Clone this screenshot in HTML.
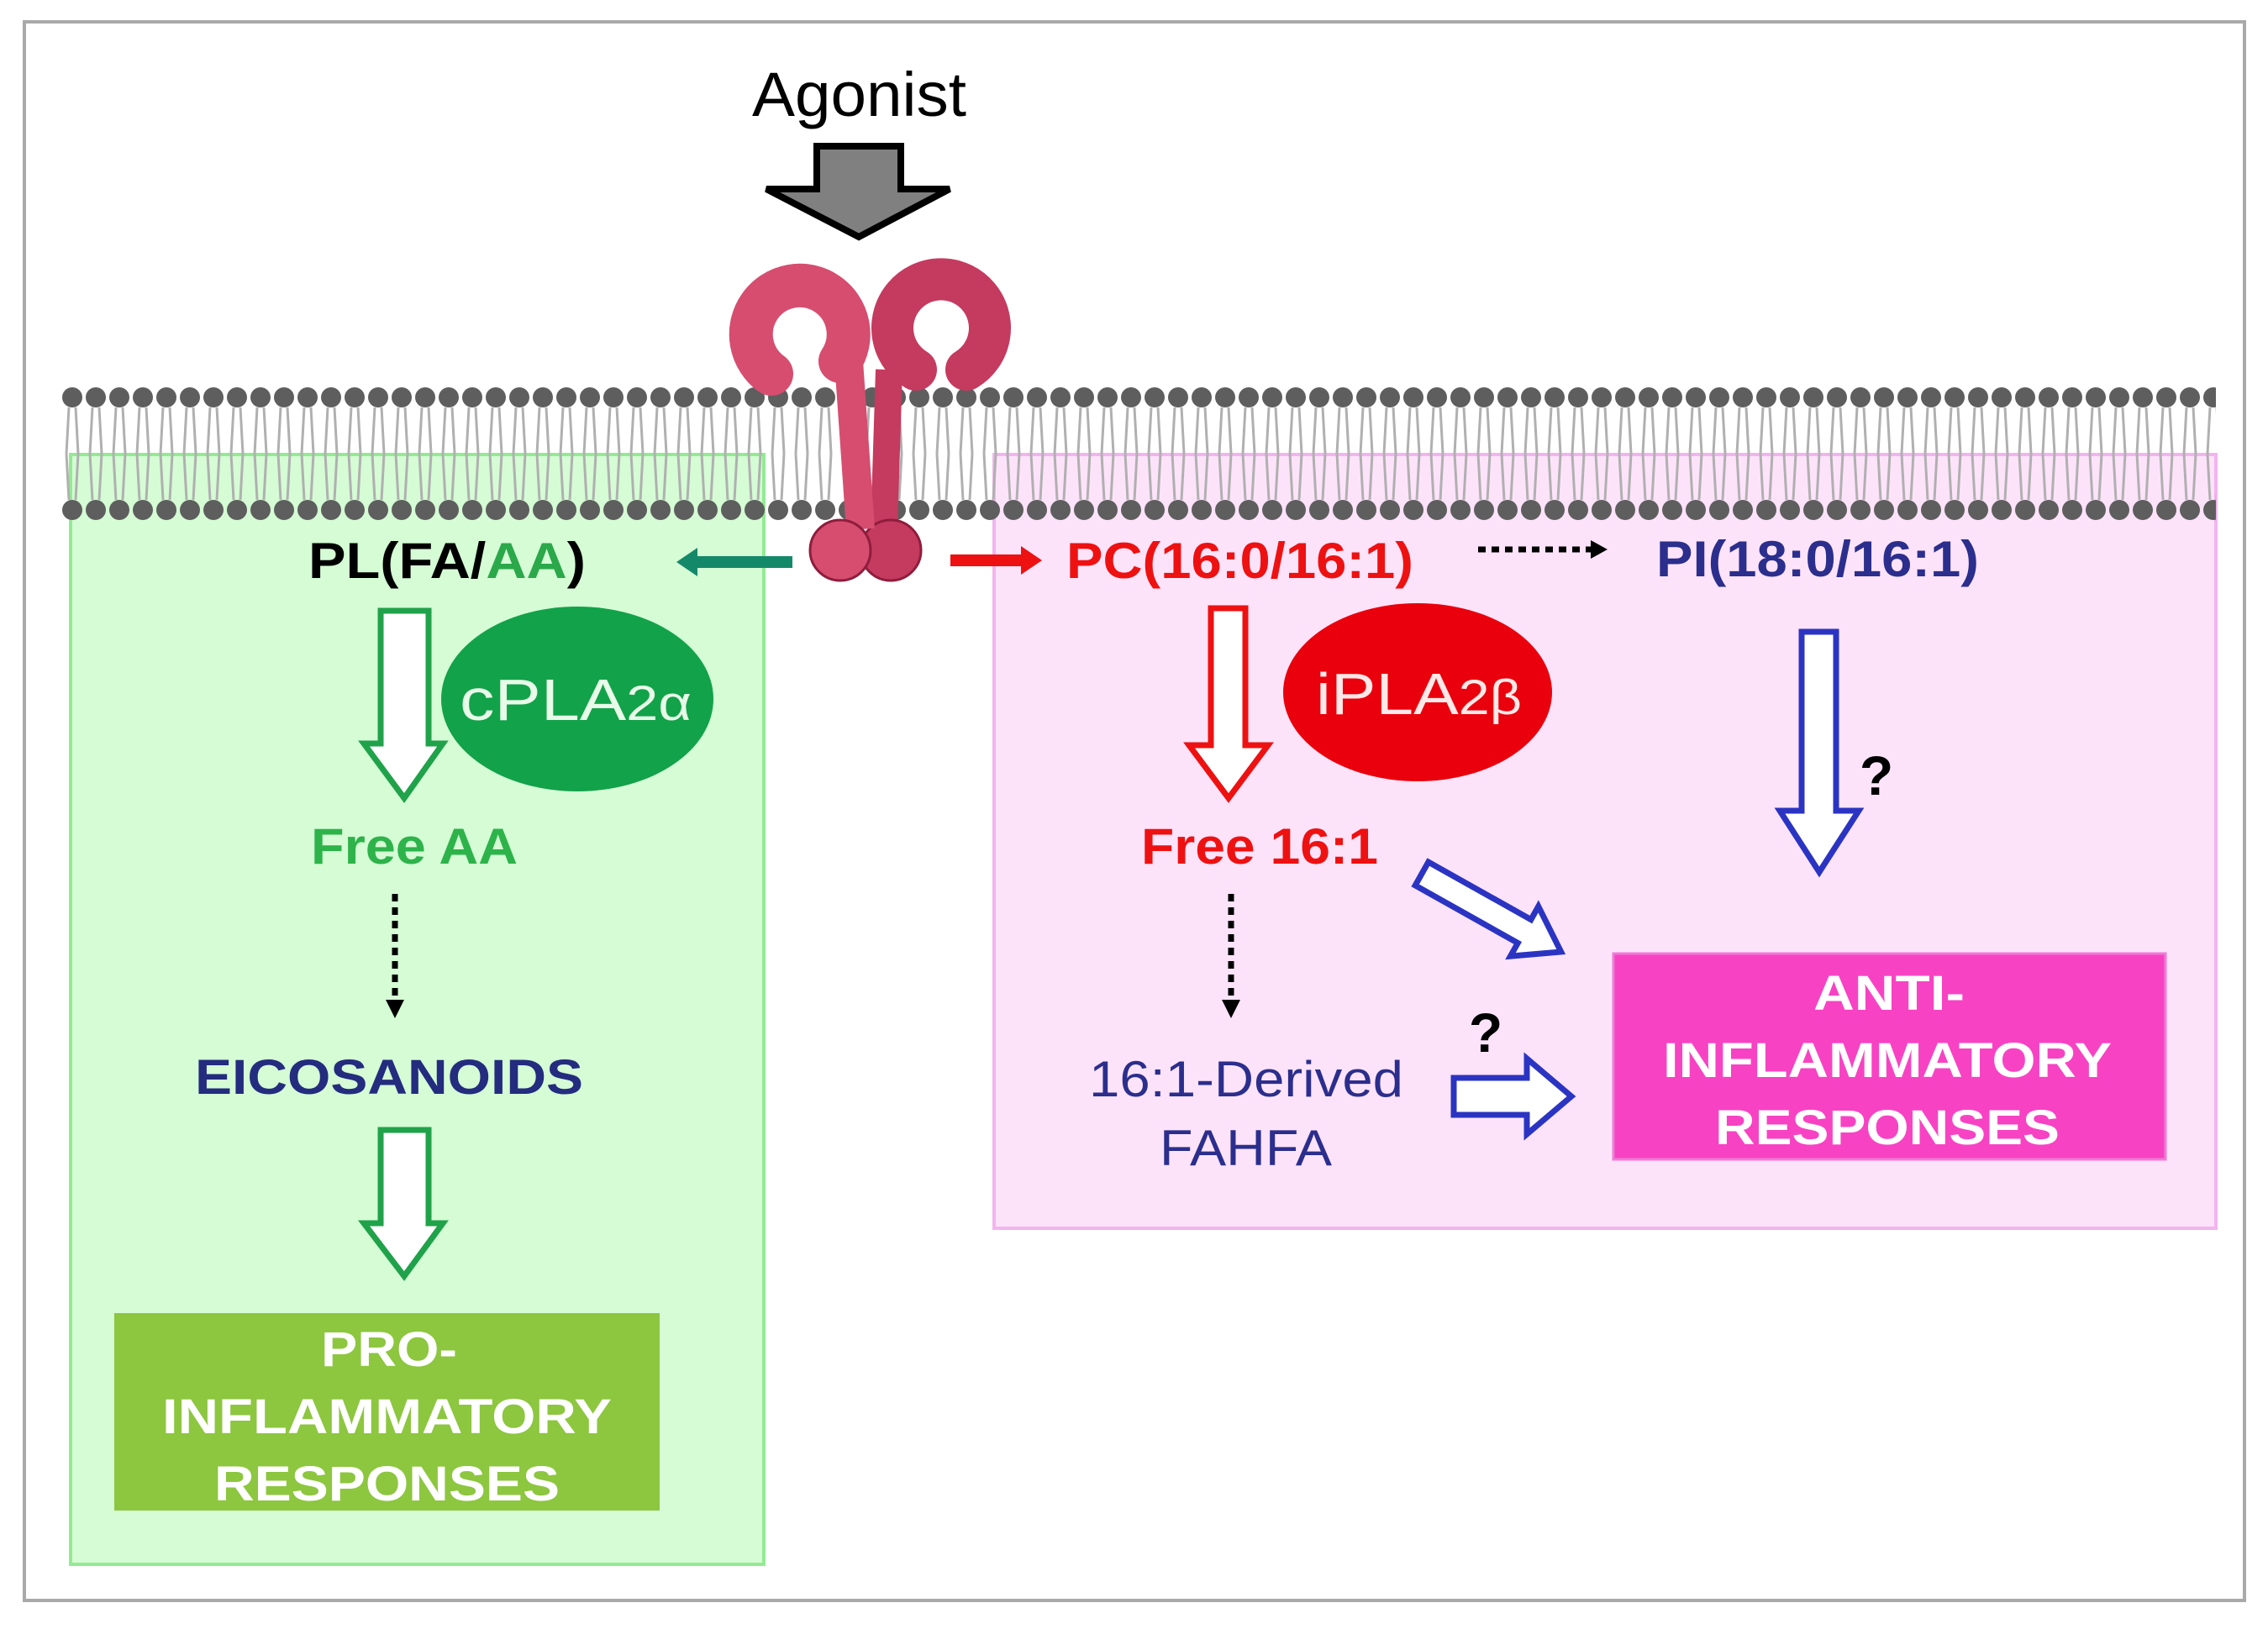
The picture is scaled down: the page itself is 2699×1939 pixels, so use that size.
<!DOCTYPE html>
<html><head><meta charset="utf-8"><style>html,body{margin:0;padding:0;background:#fff}svg{display:block}</style></head>
<body>
<svg width="2699" height="1939" viewBox="0 0 2699 1939" xmlns="http://www.w3.org/2000/svg" font-family="Liberation Sans, Arial, sans-serif">
<defs>
<pattern id="heads" x="72" y="0" width="28" height="1939" patternUnits="userSpaceOnUse">
<circle cx="14" cy="473" r="12" fill="#5e5e5e"/>
<circle cx="14" cy="607" r="12" fill="#5e5e5e"/>
<path d="M10 485 L7 540 M18 485 L21 540 M7 540 L10 595 M21 540 L18 595" stroke="#b0b0b0" stroke-width="3" fill="none"/>
</pattern>
</defs>
<rect x="0" y="0" width="2699" height="1939" fill="#fff"/>
<rect x="29" y="26" width="2642" height="1879" fill="none" stroke="#a9a9a9" stroke-width="4"/>
<rect x="84" y="541" width="825" height="1321" fill="#d5fcd5" stroke="#93ea93" stroke-width="4"/>
<rect x="1183" y="541" width="1454" height="921" fill="#fde3fa" stroke="#f2b4ee" stroke-width="4"/>
<rect x="72" y="458" width="2565" height="164" fill="url(#heads)"/>
<text x="895" y="138" font-size="74" textLength="255" lengthAdjust="spacingAndGlyphs" fill="#000">Agonist</text>
<path d="M972 174 H1072 V225 H1130 L1022 282 L912 225 H972 Z" fill="#808080" stroke="#000" stroke-width="8"/>
<!-- receptor -->
<g stroke="#8f1d3c" stroke-width="3">
<path d="M1090 440 A58 58 0 1 1 1150 440" fill="none" stroke="#c53a5f" stroke-width="50" stroke-linecap="round"/>
<path d="M1058 440 L1052 630" stroke="#c53a5f" stroke-width="32"/>
<circle cx="1060" cy="655" r="36" fill="#c53a5f"/>
<path d="M918 445 A58 58 0 1 1 1000 430" fill="none" stroke="#d64d70" stroke-width="52" stroke-linecap="round"/>
<path d="M1010 430 L1024 630" stroke="#d64d70" stroke-width="34"/>
<circle cx="1000" cy="655" r="36" fill="#d64d70"/>
</g>
<path d="M943 669 H825" stroke="#14896a" stroke-width="14"/>
<path d="M805 669 L830 652 V686 Z" fill="#14896a"/>
<path d="M1131 667 H1220" stroke="#ee1111" stroke-width="14"/>
<path d="M1240 667 L1215 650 V684 Z" fill="#ee1111"/>
<path d="M1759 654 H1895" stroke="#000" stroke-width="7" stroke-dasharray="9 7"/>
<path d="M1913 654 L1893 643 V665 Z" fill="#000"/>
<text x="367" y="688" font-size="60" font-weight="bold" textLength="330" lengthAdjust="spacingAndGlyphs" fill="#000">PL(FA/<tspan fill="#2aa84a">AA</tspan>)</text>
<text x="1269" y="688" font-size="60" font-weight="bold" textLength="413" lengthAdjust="spacingAndGlyphs" fill="#ee1111">PC(16:0/16:1)</text>
<text x="1971" y="686" font-size="60" font-weight="bold" textLength="384" lengthAdjust="spacingAndGlyphs" fill="#2b2e8c">PI(18:0/16:1)</text>
<!-- left -->
<path d="M453 727 H510 V885 H527 L481 950 L433 885 H453 Z" fill="#fff" stroke="#20a24a" stroke-width="7"/>
<ellipse cx="687" cy="832" rx="162" ry="110" fill="#12a24a"/>
<text x="547" y="857" font-size="70" textLength="276" lengthAdjust="spacingAndGlyphs" fill="#e8fbe8">cPLA<tspan font-size="58">2α</tspan></text>
<text x="370" y="1028" font-size="60" font-weight="bold" textLength="246" lengthAdjust="spacingAndGlyphs" fill="#2db34a">Free AA</text>
<path d="M470 1064 V1190" stroke="#000" stroke-width="7" stroke-dasharray="9 7"/>
<path d="M470 1212 L459 1190 H481 Z" fill="#000"/>
<text x="232" y="1302" font-size="58" font-weight="bold" textLength="462" lengthAdjust="spacingAndGlyphs" fill="#232c7e">EICOSANOIDS</text>
<path d="M453 1345 H510 V1456 H527 L481 1519 L433 1456 H453 Z" fill="#fff" stroke="#20a24a" stroke-width="7"/>
<rect x="136" y="1563" width="649" height="235" fill="#8dc63f"/>
<g font-size="58" font-weight="bold" fill="#fff" lengthAdjust="spacingAndGlyphs">
<text x="382" y="1626" textLength="162" lengthAdjust="spacingAndGlyphs">PRO-</text>
<text x="193" y="1706" textLength="535" lengthAdjust="spacingAndGlyphs">INFLAMMATORY</text>
<text x="255" y="1786" textLength="411" lengthAdjust="spacingAndGlyphs">RESPONSES</text>
</g>
<!-- middle -->
<path d="M1441 724 H1482 V887 H1509 L1462 950 L1415 887 H1441 Z" fill="#fff" stroke="#ee1111" stroke-width="7"/>
<ellipse cx="1687" cy="824" rx="160" ry="106" fill="#ea000c"/>
<text x="1566" y="850" font-size="70" textLength="245" lengthAdjust="spacingAndGlyphs" fill="#ffe8e8">iPLA<tspan font-size="58">2β</tspan></text>
<text x="1358" y="1028" font-size="60" font-weight="bold" textLength="282" lengthAdjust="spacingAndGlyphs" fill="#ee1111">Free 16:1</text>
<path d="M1465 1064 V1190" stroke="#000" stroke-width="7" stroke-dasharray="9 7"/>
<path d="M1465 1212 L1454 1190 H1476 Z" fill="#000"/>
<text x="1296" y="1305" font-size="60" textLength="374" lengthAdjust="spacingAndGlyphs" fill="#2b2e8c">16:1-Derived</text>
<text x="1380" y="1387" font-size="60" textLength="205" lengthAdjust="spacingAndGlyphs" fill="#2b2e8c">FAHFA</text>
<text x="1768" y="1252" font-size="66" font-weight="bold" fill="#000" text-anchor="middle">?</text>
<path d="M1730 1283 H1817 V1260 L1870 1305 L1817 1350 V1327 H1730 Z" fill="#fff" stroke="#2b34c2" stroke-width="7"/>
<path transform="translate(1692,1040) rotate(29.3)" d="M0 -16 H140 V-34 L190 0 L140 34 V16 H0 Z" fill="#fff" stroke="#2b34c2" stroke-width="7"/>
<!-- right -->
<path d="M2144 752 H2185 V965 H2212 L2165 1038 L2118 965 H2144 Z" fill="#fff" stroke="#2b34c2" stroke-width="7"/>
<text x="2233" y="946" font-size="66" font-weight="bold" fill="#000" text-anchor="middle">?</text>
<rect x="1920" y="1135" width="657" height="245" fill="#f743c3" stroke="#f07bd6" stroke-width="3"/>
<g font-size="58" font-weight="bold" fill="#fff">
<text x="2158" y="1202" textLength="180" lengthAdjust="spacingAndGlyphs">ANTI-</text>
<text x="1979" y="1282" textLength="534" lengthAdjust="spacingAndGlyphs">INFLAMMATORY</text>
<text x="2041" y="1362" textLength="410" lengthAdjust="spacingAndGlyphs">RESPONSES</text>
</g>
</svg>
</body></html>
